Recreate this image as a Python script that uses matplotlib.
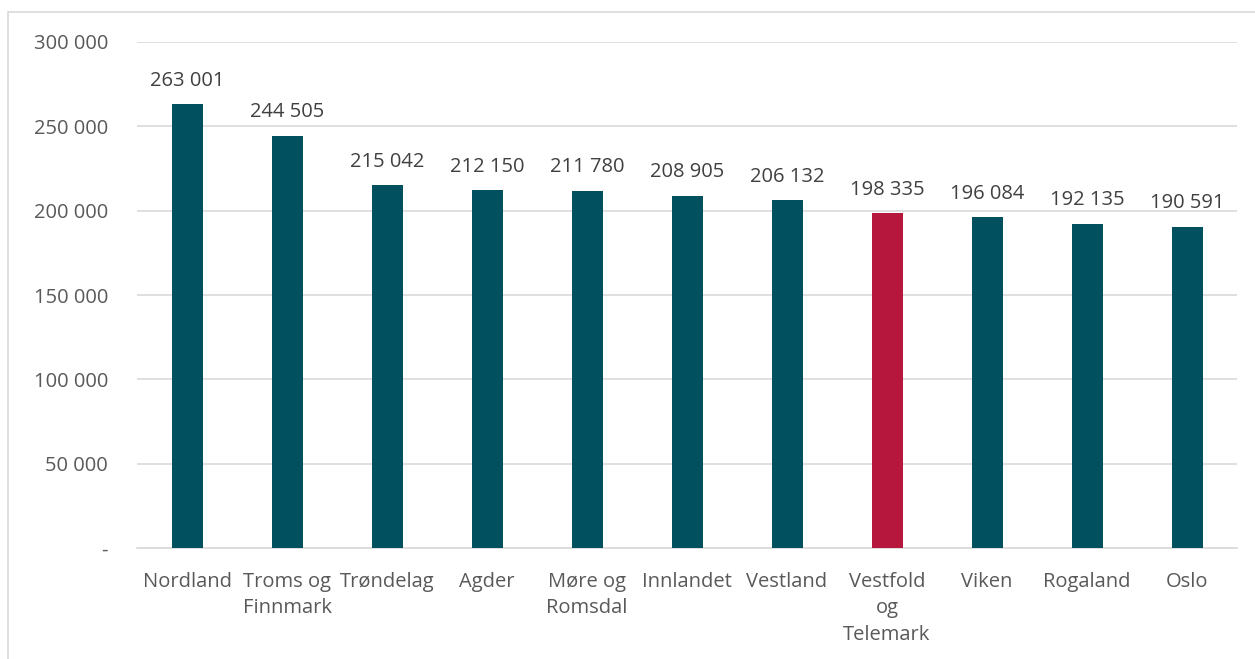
import matplotlib.pyplot as plt
from matplotlib.patches import Rectangle

regions = ['Nordland', 'Troms og\nFinnmark', 'Trøndelag', 'Agder', 'Møre og\nRomsdal',
           'Innlandet', 'Vestland', 'Vestfold\nog\nTelemark', 'Viken', 'Rogaland', 'Oslo']
values = [263001, 244505, 215042, 212150, 211780, 208905, 206132, 198335, 196084, 192135, 190591]
highlight = 'Vestfold\nog\nTelemark'

yticks = [0, 50000, 100000, 150000, 200000, 250000, 300000]
ylabels = ['-', '50 000', '100 000', '150 000', '200 000', '250 000', '300 000']

plt.rcParams['font.family'] = ['Open Sans', 'DejaVu Sans']

fig = plt.figure(figsize=(12.55, 6.59), dpi=100)
ax = fig.add_axes([0.1092, 0.1684, 0.8765, 0.7679])

# light frame round the chart area
fig.patches.append(Rectangle((8 / 1255, -0.1), 1.2, 1 - 12 / 659 + 0.1, transform=fig.transFigure,
                             fill=False, edgecolor='#d9d9d9', linewidth=1.2))

colors = ['#B5173D' if r == highlight else '#00505F' for r in regions]
x = range(len(regions))
bars = ax.bar(x, values, width=0.31, color=colors, zorder=3)

for xi, v in zip(x, values):
    ax.text(xi, v + 8000, f'{v:,}'.replace(',', ' '), ha='center', va='bottom',
            fontsize=14.5, color='#404040')

ax.set_xlim(-0.5, len(regions) - 0.5)
ax.set_ylim(0, 300000)
ax.set_yticks(yticks)
ax.set_yticklabels(ylabels, fontsize=14.5, color='#595959')
ax.set_xticks(list(x))
ax.set_xticklabels(regions, fontsize=14.5, color='#595959', linespacing=1.45)
ax.tick_params(axis='both', length=0)
ax.tick_params(axis='y', pad=21)
ax.tick_params(axis='x', pad=17)
ax.grid(axis='y', color='#d9d9d9', linewidth=1.2, zorder=0)
for s in ['top', 'right', 'left']:
    ax.spines[s].set_visible(False)
ax.spines['bottom'].set_color('#d9d9d9')
ax.spines['bottom'].set_linewidth(1.2)

fig.savefig('out.png', dpi=100)
